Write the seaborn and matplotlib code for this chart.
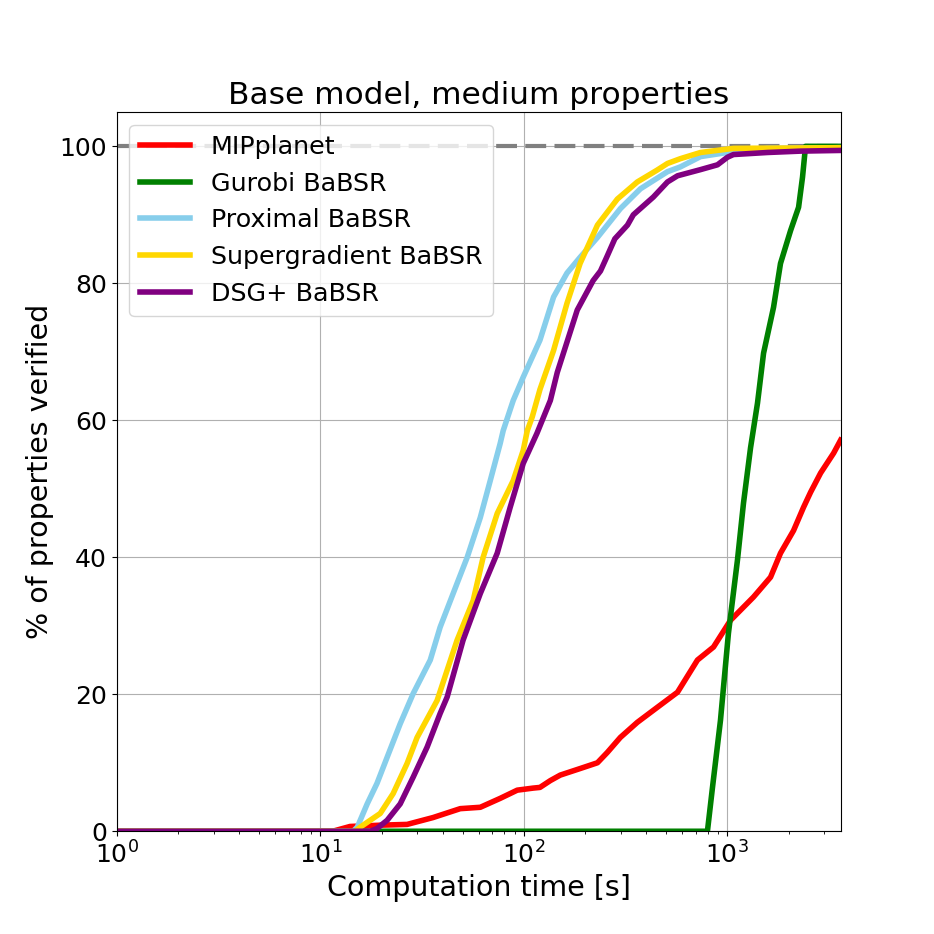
import matplotlib
matplotlib.use("Agg")
import matplotlib.pyplot as plt
import seaborn as sns
import pandas as pd

# Values (time in seconds, % of properties verified)
mip_t = [1, 11.5, 14.0, 20.3, 26.7, 35.8, 48.7, 61.1, 76.5, 92.8, 111, 120, 135, 151, 191, 230,
         257, 298, 361, 453, 569, 713, 855, 1036, 1344, 1630, 1824, 2114, 2367, 2564, 2871, 3326, 3600]
mip_v = [0, 0, 0.7, 0.9, 1.0, 2.0, 3.3, 3.5, 4.8, 6.0, 6.3, 6.4, 7.4, 8.2, 9.2, 10.0,
         11.5, 13.7, 15.9, 18.1, 20.3, 25.0, 26.9, 30.8, 34.2, 37.1, 40.6, 43.9, 47.3, 49.5, 52.3, 55.2, 57.1]

gurobi_t = [1, 798, 845, 925, 1012, 1121, 1200, 1300, 1406, 1506, 1686, 1824, 2044, 2238, 2340, 2421, 3600]
gurobi_v = [0, 0, 6.4, 16.2, 28.9, 39.6, 47.9, 56.0, 62.5, 69.8, 76.5, 82.9, 87.7, 91.1, 95.5, 100, 100]

prox_t = [1, 14.5, 15.2, 17.0, 19.0, 21.3, 24.7, 28.6, 34.7, 38.8, 47.0, 52.7, 61.1, 68.4, 76.5,
          79.2, 88.7, 99.3, 120, 140, 163, 189, 230, 298, 374, 508, 588, 738, 1000, 1575, 3600]
prox_v = [0, 0, 0.6, 4.0, 7.0, 10.8, 15.7, 20.1, 25.0, 29.8, 36.2, 40.0, 45.8, 51.2, 56.6,
          58.5, 62.9, 66.3, 71.7, 78.0, 81.5, 83.8, 86.7, 90.9, 93.8, 96.3, 97.0, 98.5, 99.1, 99.7, 99.8]

superg_t = [1, 14.8, 15.7, 19.7, 22.8, 26.7, 29.9, 37.5, 47.0, 56.4, 63.1, 74.0, 88.7, 99.3, 104,
            110, 120, 140, 163, 189, 230, 288, 361, 450, 508, 588, 738, 1071, 3600]
superg_v = [0, 0, 0.6, 2.6, 5.5, 9.9, 13.7, 19.1, 27.9, 33.7, 40.0, 46.4, 51.2, 55.6, 58.5,
            60.5, 64.5, 70.2, 77.1, 82.9, 88.5, 92.3, 94.8, 96.5, 97.5, 98.2, 99.1, 99.7, 99.8]

dsg_t = [1, 17.6, 19.0, 21.3, 24.7, 28.6, 33.5, 38.8, 42.0, 50.3, 61.1, 74.0, 85.7, 99.3, 116, 135,
         146, 183, 219, 238, 257, 280, 323, 345, 433, 508, 569, 738, 894, 1000, 1071, 1575, 2290, 3600]
dsg_v = [0, 0, 0.4, 1.6, 4.0, 7.9, 12.3, 17.2, 19.6, 27.9, 34.7, 40.6, 47.3, 53.7, 58.1, 62.9,
         67.0, 76.1, 80.4, 81.8, 84.0, 86.5, 88.5, 90.0, 92.6, 94.8, 95.7, 96.6, 97.3, 98.4, 98.8, 99.1, 99.3, 99.4]

series = [
    ("MIPplanet", mip_t, mip_v, "red"),
    ("Gurobi BaBSR", gurobi_t, gurobi_v, "green"),
    ("Proximal BaBSR", prox_t, prox_v, "skyblue"),
    ("Supergradient BaBSR", superg_t, superg_v, "gold"),
    ("DSG+ BaBSR", dsg_t, dsg_v, "purple"),
]

fig, ax = plt.subplots(figsize=(9.34, 9.34), dpi=100)

# dashed reference line at 100 %
ax.axhline(100, color="gray", linestyle=(0, (5, 2)), linewidth=3, zorder=1)

for name, t, v, color in series:
    df = pd.DataFrame({"time": t, "pct": v})
    sns.lineplot(data=df, x="time", y="pct", color=color, linewidth=4,
                 label=name, ax=ax, estimator=None, sort=False)

ax.set_xscale("log")
ax.set_xlim(1, 3600)
ax.set_ylim(0, 105)
ax.set_yticks([0, 20, 40, 60, 80, 100])
ax.grid(True)
ax.set_axisbelow(True)

ax.set_title("Base model, medium properties", fontsize=22.5)
ax.set_xlabel("Computation time [s]", fontsize=20.5)
ax.set_ylabel("% of properties verified", fontsize=20.5)
ax.tick_params(axis="both", which="major", labelsize=18)

leg = ax.legend(loc="upper left", fontsize=18.3)
for line in leg.get_lines():
    line.set_linewidth(4)

fig.savefig("out.png", dpi=100)
